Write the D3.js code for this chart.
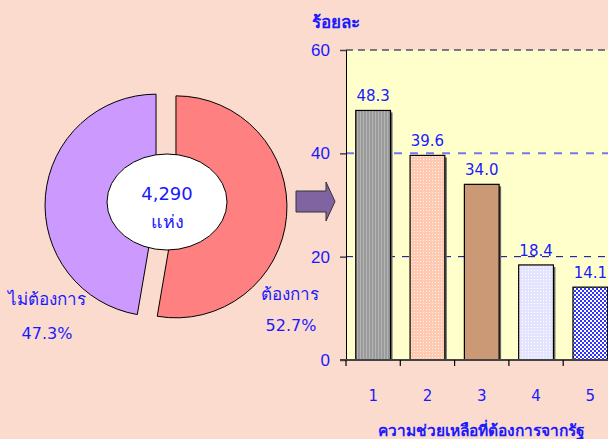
<!doctype html>
<html>
<head>
<meta charset="utf-8">
<script src="https://cdnjs.cloudflare.com/ajax/libs/d3/7.8.5/d3.min.js"></script>
<style>
body { margin: 0; background: #FADBCD; }
svg { display: block; font-family: Tahoma, "DejaVu Sans", "Noto Sans", sans-serif; }
.lbl { fill: #1a1aff; }
</style>
</head>
<body>
<svg id="chart" width="608" height="439"></svg>
<script>
// pie data
var pieNames = ["ต้องการ", "ไม่ต้องการ"];
var pieValues = [52.7, 47.3];
var pieColors = ["#FF8080", "#CC99FF"];
var total = "4,290";

// bar data
var cats = ["1", "2", "3", "4", "5"];
var barValues = [48.3, 39.6, 34.0, 18.4, 14.1];
var yTicks = [0, 20, 40, 60];

var svg = d3.select("#chart");
var defs = svg.append("defs");

// fill patterns for the bars
var p1 = defs.append("pattern").attr("id", "p1").attr("width", 3).attr("height", 3).attr("patternUnits", "userSpaceOnUse");
p1.append("rect").attr("width", 3).attr("height", 3).attr("fill", "#9a9a9a");
p1.append("rect").attr("width", 1).attr("height", 3).attr("fill", "#b4b4b4");

var p2 = defs.append("pattern").attr("id", "p2").attr("width", 3).attr("height", 3).attr("patternUnits", "userSpaceOnUse");
p2.append("rect").attr("width", 3).attr("height", 3).attr("fill", "#ffc8b0");
p2.append("rect").attr("width", 1).attr("height", 1).attr("fill", "#fff4ee");

var p4 = defs.append("pattern").attr("id", "p4").attr("width", 3).attr("height", 3).attr("patternUnits", "userSpaceOnUse");
p4.append("rect").attr("width", 3).attr("height", 3).attr("fill", "#e4e4ff");
p4.append("rect").attr("width", 1).attr("height", 1).attr("fill", "#ffffff");

var p5 = defs.append("pattern").attr("id", "p5").attr("width", 4).attr("height", 4).attr("patternUnits", "userSpaceOnUse");
p5.append("rect").attr("width", 4).attr("height", 4).attr("fill", "#ffffff");
p5.append("rect").attr("width", 2).attr("height", 2).attr("fill", "#3333ff");
p5.append("rect").attr("x", 2).attr("y", 2).attr("width", 2).attr("height", 2).attr("fill", "#3333ff");

var barFills = ["url(#p1)", "url(#p2)", "#CC9977", "url(#p4)", "url(#p5)"];

// ---------- pie ----------
var cx = 166, cy = 206, R = 111, explode = 10;
var pie = d3.pie().sort(null).startAngle(0).endAngle(2 * Math.PI);
var arc = d3.arc().innerRadius(0).outerRadius(R);
var slices = pie(pieValues);

var pg = svg.append("g").attr("transform", "translate(" + cx + "," + cy + ")");
pg.selectAll("path")
  .data(slices)
  .enter()
  .append("path")
  .attr("d", arc)
  .attr("fill", (d, i) => pieColors[i])
  .attr("stroke", "#000")
  .attr("stroke-width", 1)
  .attr("transform", d => {
    var a = (d.startAngle + d.endAngle) / 2;
    return "translate(" + (Math.sin(a) * explode) + "," + (-Math.cos(a) * explode) + ")";
  });

pg.append("ellipse")
  .attr("cx", 1).attr("cy", -4)
  .attr("rx", 60).attr("ry", 48)
  .attr("fill", "#fff").attr("stroke", "#000");

pg.append("text").attr("class", "lbl").attr("x", 1).attr("y", -6)
  .attr("text-anchor", "middle").style("font-size", "18px").text(total);
pg.append("text").attr("class", "lbl").attr("x", 1).attr("y", 22)
  .attr("text-anchor", "middle").style("font-size", "18px").text("แห่ง");

// slice labels
var labelPos = [[290, 300, 291, 331], [47, 305, 47, 339]];
pieNames.forEach((n, i) => {
  svg.append("text").attr("class", "lbl").attr("x", labelPos[i][0]).attr("y", labelPos[i][1])
    .attr("text-anchor", "middle").style("font-size", "17px").text(n);
  svg.append("text").attr("class", "lbl").attr("x", labelPos[i][2]).attr("y", labelPos[i][3])
    .attr("text-anchor", "middle").style("font-size", "16px").text(pieValues[i].toFixed(1) + "%");
});

// arrow
svg.append("path")
  .attr("d", "M296,191 L326,191 L326,182 L335,201.5 L326,221 L326,212 L296,212 Z")
  .attr("fill", "#8064A2").attr("stroke", "#333").attr("stroke-width", 1);

// ---------- bar chart ----------
var x = d3.scaleBand().domain(cats).range([346, 617.5]).paddingInner(0.36).paddingOuter(0.18);
var y = d3.scaleLinear().domain([0, 60]).range([360, 50]);

svg.append("rect")
  .attr("x", 346).attr("y", y(60))
  .attr("width", 608 - 346).attr("height", y(0) - y(60))
  .attr("fill", "#FFFFCC");

// grid lines
var gridStyle = { 60: ["#000033", 1.2, "7,5"], 40: ["#7777ee", 2, "8,8"], 20: ["#000099", 1, "7,7"] };
svg.selectAll("line.grid")
  .data([20, 40, 60])
  .enter()
  .append("line")
  .attr("class", "grid")
  .attr("x1", 346).attr("x2", 608)
  .attr("y1", d => y(d)).attr("y2", d => y(d))
  .attr("stroke", d => gridStyle[d][0])
  .attr("stroke-width", d => gridStyle[d][1])
  .attr("stroke-dasharray", d => gridStyle[d][2]);

// bars with a small shadow
var bw = x.bandwidth();
svg.selectAll("rect.shadow")
  .data(barValues)
  .enter()
  .append("rect")
  .attr("class", "shadow")
  .attr("x", (d, i) => x(cats[i]) + 2)
  .attr("y", d => y(d) + 2)
  .attr("width", bw)
  .attr("height", d => y(0) - y(d) - 2)
  .attr("fill", "#666");

svg.selectAll("rect.bar")
  .data(barValues)
  .enter()
  .append("rect")
  .attr("class", "bar")
  .attr("x", (d, i) => x(cats[i]))
  .attr("y", d => y(d))
  .attr("width", bw)
  .attr("height", d => y(0) - y(d))
  .attr("fill", (d, i) => barFills[i])
  .attr("stroke", "#000")
  .attr("stroke-width", 1.2);

svg.selectAll("text.val")
  .data(barValues)
  .enter()
  .append("text")
  .attr("class", "lbl val")
  .attr("x", (d, i) => x(cats[i]) + bw / 2)
  .attr("y", d => y(d) - 9)
  .attr("text-anchor", "middle")
  .style("font-size", "15px")
  .text(d => d.toFixed(1));

// y axis
var yAxis = svg.append("g").attr("transform", "translate(346,0)")
  .call(d3.axisLeft(y).tickValues(yTicks).tickSize(6).tickPadding(10));
yAxis.select(".domain").attr("stroke", "#000");
yAxis.selectAll(".tick line").attr("stroke", "#444").attr("stroke-width", 1.5);
yAxis.selectAll("text").attr("fill", "#1a1aff").style("font-size", "17px").style("font-family", "inherit");

// x axis, ticks at band boundaries
svg.append("line").attr("x1", 340).attr("x2", 608).attr("y1", y(0)).attr("y2", y(0))
  .attr("stroke", "#444").attr("stroke-width", 2);
svg.selectAll("line.xt")
  .data(cats)
  .enter()
  .append("line")
  .attr("class", "xt")
  .attr("x1", d => x(d) - x.step() * 0.18).attr("x2", d => x(d) - x.step() * 0.18)
  .attr("y1", y(0)).attr("y2", y(0) + 6)
  .attr("stroke", "#000").attr("stroke-width", 1.2);
svg.selectAll("text.xl")
  .data(cats)
  .enter()
  .append("text")
  .attr("class", "lbl xl")
  .attr("x", d => x(d) + bw / 2)
  .attr("y", 401)
  .attr("text-anchor", "middle")
  .style("font-size", "15px")
  .text(d => d);

svg.append("text").attr("class", "lbl").attr("x", 312).attr("y", 28)
  .style("font-size", "17px").style("font-weight", "bold").text("ร้อยละ");
svg.append("text").attr("class", "lbl").attr("x", 481).attr("y", 436)
  .attr("text-anchor", "middle").style("font-size", "15.5px").style("font-weight", "bold")
  .text("ความช่วยเหลือที่ต้องการจากรัฐ");
</script>
</body>
</html>
